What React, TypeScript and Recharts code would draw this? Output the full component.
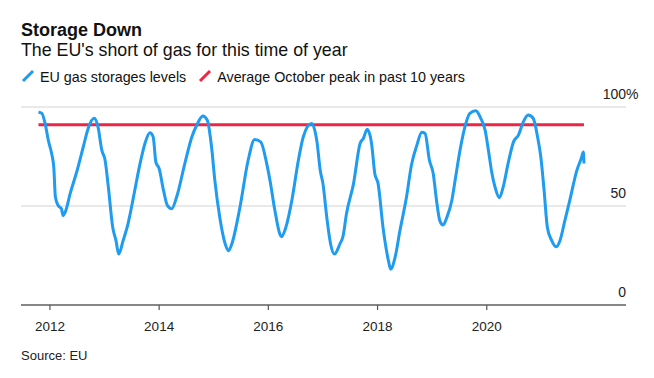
import React from "react";
import { LineChart, Line, XAxis, YAxis, CartesianGrid } from "recharts";

// EU gas storage fill level (%)
const dates = [
  2011.79, 2011.85, 2011.91, 2011.97, 2012.03, 2012.07, 2012.1, 2012.15, 2012.21, 2012.24,
  2012.29, 2012.37, 2012.49, 2012.61, 2012.7, 2012.81, 2012.88, 2012.95, 2013.01, 2013.07,
  2013.15, 2013.21, 2013.26, 2013.34, 2013.43, 2013.53, 2013.65, 2013.74, 2013.83, 2013.89,
  2013.94, 2014.0, 2014.08, 2014.15, 2014.23, 2014.32, 2014.47, 2014.6, 2014.69, 2014.8,
  2014.88, 2014.96, 2015.02, 2015.11, 2015.21, 2015.27, 2015.33, 2015.48, 2015.63, 2015.75,
  2015.86, 2015.97, 2016.03, 2016.12, 2016.21, 2016.24, 2016.32, 2016.43, 2016.55, 2016.64,
  2016.79, 2016.89, 2016.95, 2017.0, 2017.07, 2017.14, 2017.21, 2017.31, 2017.37, 2017.43,
  2017.56, 2017.68, 2017.74, 2017.81, 2017.89, 2017.95, 2018.01, 2018.1, 2018.2, 2018.24,
  2018.32, 2018.41, 2018.53, 2018.62, 2018.72, 2018.81, 2018.87, 2018.95, 2019.02, 2019.08,
  2019.14, 2019.2, 2019.27, 2019.36, 2019.42, 2019.51, 2019.6, 2019.69, 2019.8, 2019.89,
  2019.97, 2020.03, 2020.09, 2020.16, 2020.23, 2020.3, 2020.39, 2020.49, 2020.58, 2020.67,
  2020.76, 2020.85, 2020.93, 2020.99, 2021.05, 2021.11, 2021.19, 2021.27, 2021.34, 2021.43,
  2021.52, 2021.65, 2021.73, 2021.77, 2021.78,
];
const levels = [
  97.3, 96.8, 91.9, 83.2, 76.6, 69.7, 54.5, 50.3, 48.6, 45.2,
  47.7, 56.2, 67.2, 79.8, 89.2, 94.3, 90, 78.2, 73.1, 59.5,
  39.2, 32.5, 25.7, 32.5, 41, 54.5, 71.4, 81.6, 87, 85,
  72.2, 68.9, 57.9, 50.3, 48.6, 54.5, 71.4, 85, 90.9, 95.4,
  93.4, 79.8, 62.9, 44.3, 30.8, 27.4, 30.8, 49.4, 73.1, 83.6,
  82.4, 71.4, 62.9, 47.7, 35.9, 34.5, 39.2, 52.8, 73.1, 85,
  91.7, 82.5, 68, 61.3, 44.3, 30.8, 25.7, 30.8, 35, 46,
  61.3, 81.6, 84.1, 88.7, 81.6, 66.3, 61.3, 39.2, 22.3, 18.1,
  24, 37.6, 54.5, 70.6, 80.7, 87.2, 86.6, 73.1, 66.3, 52.8,
  42.6, 40.4, 44.3, 52.8, 62.9, 78.2, 90, 96.8, 98.1, 94.3,
  88.3, 78.2, 67.2, 58.7, 54.2, 59.5, 71.4, 82.4, 85.8, 92.5,
  95.9, 94.3, 85, 74.8, 57.9, 39.2, 32.5, 29.4, 32.5, 42.6,
  52.8, 68, 74, 77.3, 71.5,
];

// average October peak over the past 10 years
const peakDates = [2011.79, 2021.78];
const peakAvg = [91, 91];

const yearTicks = [2012, 2014, 2016, 2018, 2020];
const pctTicks = [0, 50, 100];

const BLUE = "#1f9bf0";
const RED = "#ee2645";
const FONT = "'Liberation Sans', Arial, sans-serif";

const storage = dates.map((d, i) => ({ date: d, level: levels[i] }));
const peak = peakDates.map((d, i) => ({ date: d, avg: peakAvg[i] }));

// labels sit above their gridline, right-aligned to the plot edge
const renderPctTick = (props: any) => {
  const { y, payload } = props;
  const x = 626;
  return (
    <g key={"pct-" + payload.value}>
      <text x={x} y={y - 8.5} textAnchor="end" fontSize={14} fill="#222" fontFamily={FONT}>
        {payload.value}
      </text>
      {payload.value === 100 && (
        <text x={x} y={y - 8.5} textAnchor="start" fontSize={14} fill="#222" fontFamily={FONT}>
          %
        </text>
      )}
    </g>
  );
};

const LegendMark = ({ color }: { color: string }) => (
  <svg width={14} height={14} style={{ display: "inline-block", verticalAlign: "-1px", marginRight: 5 }}>
    <line x1={2} y1={12} x2={12} y2={2} stroke={color} strokeWidth={3} />
  </svg>
);

export default function App() {
  return (
    <div style={{ position: "relative", width: 654, height: 378, background: "#fff", fontFamily: FONT, color: "#111" }}>
      <style>{"body{margin:0}"}</style>
      <div style={{ position: "absolute", left: 21, top: 21.3, fontSize: 18, lineHeight: "18px", fontWeight: 700 }}>
        Storage Down
      </div>
      <div style={{ position: "absolute", left: 21, top: 42.2, fontSize: 17.8, lineHeight: "17.8px" }}>
        The EU's short of gas for this time of year
      </div>
      <div style={{ position: "absolute", left: 21, top: 68.9, fontSize: 14.3, lineHeight: "14.3px", whiteSpace: "nowrap" }}>
        <LegendMark color={BLUE} />
        <span style={{ marginRight: 12 }}>EU gas storages levels</span>
        <LegendMark color={RED} />
        <span>Average October peak in past 10 years</span>
      </div>
      <div style={{ position: "absolute", left: 21, top: 349, fontSize: 13, lineHeight: "13px", color: "#222" }}>
        Source: EU
      </div>
      <div style={{ position: "absolute", left: 0, top: 0 }}>
        <LineChart width={654} height={378} margin={{ top: 107, right: 0, left: 21, bottom: 0 }}>
          <CartesianGrid horizontal vertical={false} stroke="#e2e2e2" strokeWidth={1.5} />
          <XAxis
            dataKey="date"
            type="number"
            domain={[2011.47, 2022.55]}
            ticks={yearTicks}
            allowDataOverflow
            height={73}
            axisLine={{ stroke: "#666", strokeWidth: 1.5 }}
            tickLine={{ stroke: "#555", strokeWidth: 1.2 }}
            tickSize={5}
            tickMargin={11}
            tick={{ fontSize: 13.5, fill: "#222", fontFamily: FONT }}
          />
          <YAxis
            orientation="right"
            type="number"
            domain={[0, 100]}
            ticks={pctTicks}
            interval={0}
            width={28}
            axisLine={false}
            tickLine={false}
            tick={renderPctTick}
          />
          <Line
            data={peak}
            dataKey="avg"
            type="linear"
            stroke={RED}
            strokeWidth={3}
            dot={false}
            isAnimationActive={false}
          />
          <Line
            data={storage}
            dataKey="level"
            type="monotone"
            stroke={BLUE}
            strokeWidth={3}
            strokeLinejoin="round"
            dot={false}
            isAnimationActive={false}
          />
        </LineChart>
      </div>
    </div>
  );
}
